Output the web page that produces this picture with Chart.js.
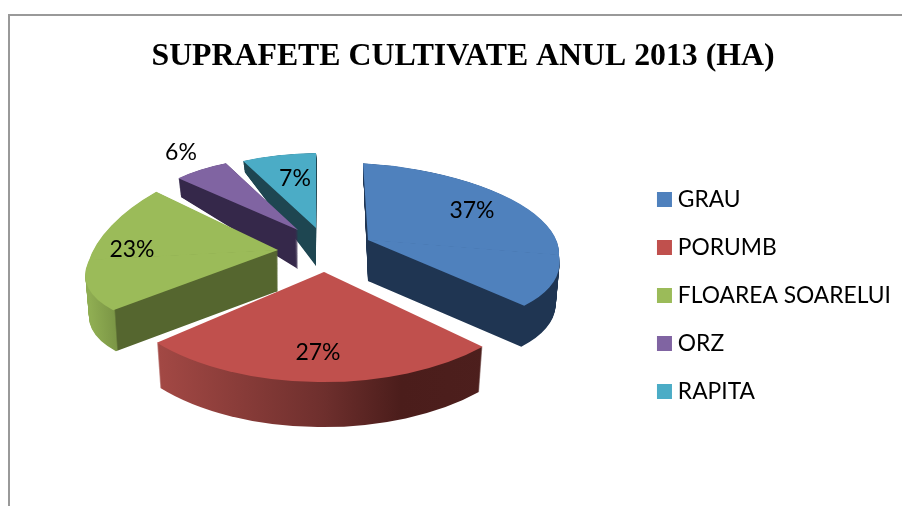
<!DOCTYPE html>
<html>
<head>
<meta charset="utf-8">
<script src="https://cdn.jsdelivr.net/npm/chart.js@4"></script>
<style>
  body { margin: 0; background: #fff; overflow: hidden; }
  #frame { position: absolute; left: 8px; top: 14px; width: 892px; height: 492px;
           border-left: 2px solid #999; border-top: 2px solid #999; }
  canvas { position: absolute; left: 0; top: 0; }
</style>
</head>
<body>
<div id="frame"></div>
<canvas id="pie" width="902" height="506"></canvas>
<script>
// Data
const chartTitle = 'SUPRAFETE CULTIVATE ANUL 2013 (HA)';
const categories = ['GRAU', 'PORUMB', 'FLOAREA SOARELUI', 'ORZ', 'RAPITA'];
const shares = [37, 27, 23, 6, 7];

// Colours
const topColors = ['#4f81bd', '#c0504d', '#9bbb59', '#8064a2', '#4bacc6'];
const wallStops = [
    [[0, '#1f3552'], [1, '#1f3552']],
    [[0, '#a84a46'], [0.12, '#a24844'], [0.5, '#6e2f2d'], [0.68, '#4b1d1b'], [1, '#4e201e']],
    [[0, '#8fad52'], [0.066, '#7c9746'], [0.07, '#55662f'], [1, '#55662f']],
    [[0, '#35284a'], [1, '#35284a']],
    [[0, '#1e4651'], [1, '#1e4651']]
];

// Fake 3D: how each wedge is tilted onto the page (pixels)
const pieCenterX = 323;
const pieCenterY = 250;
const explodeX = [45, 1, -45, -25, -7];
const explodeY = [-10, 22, 0, -20, -22];
const spanX = [191, 217, 189, 160, 171];
const tiltY = [15, 5, -10, 7, 2];
const riseTop = [76, 76, 102, 72, 75];
const dropBottom = [84, 110, 78, 78, 78];
const skewTop = [-5, 0, -35, -4, -9];
const skewBottom = [16, -11, -38, 0, 0];
const wallDepth = [41, 45, 41, 39, 38];
const drawOrder = [4, 3, 2, 0, 1];

// Label placement, measured from each wedge's tip
const labelShiftX = [104, -6, -146, -117, -21];
const labelShiftY = [-29, 81, 0, -77, -49];

const bodyFont = 'Lato';

function paintWedge(ctx, el, i, fill, t) {
    const R = el.outerRadius;
    const ghost = Object.create(el);
    ghost.options = { backgroundColor: fill, borderColor: fill, borderWidth: 0, borderRadius: 0,
        offset: 0, spacing: 0, circular: true, borderAlign: 'center' };
    const narrow = 1 - 0.02 * t;
    const depth = wallDepth[i] * t;

    [-1, 1].forEach((side) => {
        const rise = side < 0 ? riseTop[i] + depth * 0.8 : dropBottom[i];
        const skew = side < 0 ? skewTop[i] : skewBottom[i];
        ctx.save();
        ctx.translate(pieCenterX + explodeX[i], pieCenterY + explodeY[i] + depth);
        ctx.transform(spanX[i] * narrow / R, tiltY[i] / R, skew / R, rise / R, 0, 0);
        ctx.beginPath();
        // half a pixel of overlap so no seam shows along the split
        ctx.rect(-2 * R, side < 0 ? -2 * R : -0.5, 4 * R, 2 * R + 0.5);
        ctx.clip();
        ctx.translate(-el.x, -el.y);
        ghost.draw(ctx);
        ctx.restore();
    });
}

// Wall shading runs straight across the page, so undo the wedge's skew in the gradient direction
function wallGradient(ctx, el, i) {
    const R = el.outerRadius;
    const a = spanX[i] / R;
    const c = skewBottom[i] / R;
    const nx = a / (a * a + c * c);
    const ny = c / (a * a + c * c);
    const grad = ctx.createLinearGradient(el.x - spanX[i] * nx, el.y - spanX[i] * ny,
        el.x + spanX[i] * nx, el.y + spanX[i] * ny);
    wallStops[i].forEach((s) => grad.addColorStop(s[0], s[1]));
    return grad;
}

const fakePie3d = {
    id: 'fakePie3d',
    beforeDatasetDraw(chart) {
        const ctx = chart.ctx;
        const arcs = chart.getDatasetMeta(0).data;
        drawOrder.forEach((i) => {
            const el = arcs[i];
            const grad = wallGradient(ctx, el, i);
            for (let d = wallDepth[i]; d >= 1; d--) {
                paintWedge(ctx, el, i, grad, d / wallDepth[i]);
            }
            paintWedge(ctx, el, i, topColors[i], 0);
        });
        return false;
    },
    afterDatasetsDraw(chart) {
        const ctx = chart.ctx;
        const total = shares.reduce((a, b) => a + b, 0);
        ctx.save();
        ctx.font = '23px ' + bodyFont;
        ctx.fillStyle = '#000';
        ctx.textAlign = 'center';
        ctx.textBaseline = 'middle';
        shares.forEach((v, i) => {
            const text = Math.round(v / total * 100) + '%';
            ctx.fillText(text, pieCenterX + explodeX[i] + labelShiftX[i], pieCenterY + explodeY[i] + labelShiftY[i]);
        });
        ctx.restore();
    }
};

new Chart(document.getElementById('pie'), {
    type: 'pie',
    data: {
        labels: categories,
        datasets: [{
            data: shares,
            backgroundColor: topColors,
            borderWidth: 0,
            rotation: -3
        }]
    },
    options: {
        responsive: false,
        animation: false,
        layout: { padding: { left: 25, right: 1, bottom: 78 } },
        plugins: {
            title: {
                display: true,
                text: chartTitle,
                color: '#000',
                font: { family: 'Liberation Serif', size: 31.8, weight: 'bold' },
                padding: { top: 38, bottom: 16 }
            },
            legend: {
                position: 'right',
                align: 'end',
                labels: {
                    font: { family: bodyFont, size: 22.8 },
                    color: '#000',
                    usePointStyle: true,
                    pointStyle: 'rect',
                    boxWidth: 4,
                    boxHeight: 15,
                    padding: 25.2
                }
            },
            tooltip: { enabled: false }
        }
    },
    plugins: [fakePie3d]
});
</script>
</body>
</html>
